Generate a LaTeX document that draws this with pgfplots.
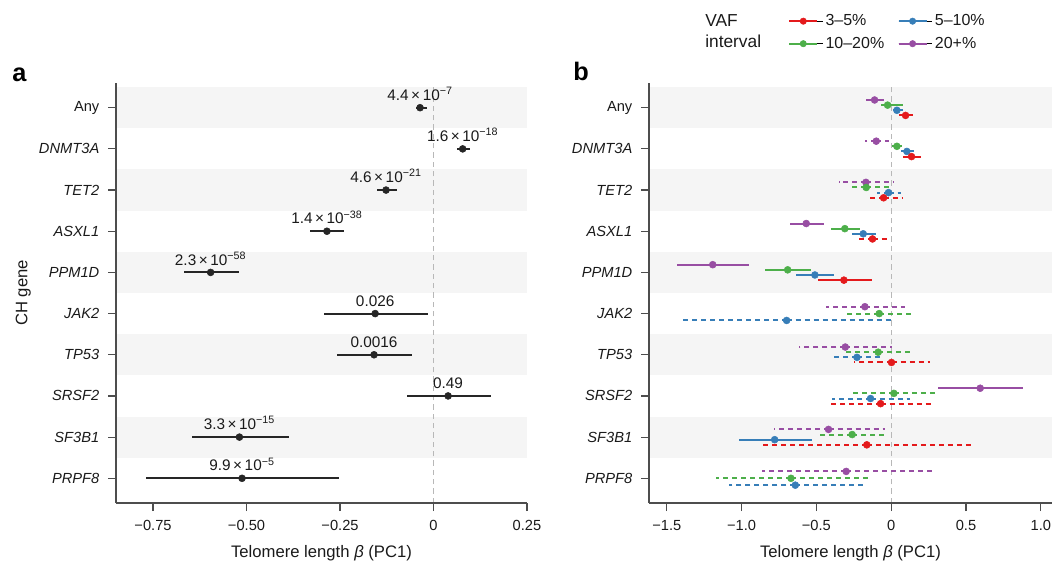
\documentclass[border=0pt]{standalone}
\usepackage{fontspec}
\setmainfont{Liberation Sans}
\usepackage{pgfplots}
\usepackage{pgfplotstable}
\pgfplotsset{compat=1.18}

\definecolor{vred}{HTML}{E41A1C}
\definecolor{vblue}{HTML}{377EB8}
\definecolor{vgreen}{HTML}{4DAF4A}
\definecolor{vpurple}{HTML}{984EA3}
\definecolor{band}{HTML}{F5F5F5}
\definecolor{axgray}{HTML}{4D4D4D}
\definecolor{zgray}{HTML}{B8B8B8}
\definecolor{txt}{HTML}{1A1A1A}
\definecolor{dotc}{HTML}{262626}

% panel a: overall effect per gene (y = 11 - row)
\pgfplotstableread{
x y lo hi
-0.036 10 -0.046 -0.018
0.078 9 0.062 0.098
-0.127 8 -0.152 -0.097
-0.285 7 -0.329 -0.239
-0.596 6 -0.668 -0.521
-0.156 5 -0.292 -0.014
-0.159 4 -0.257 -0.057
0.039 3 -0.071 0.154
-0.519 2 -0.647 -0.387
-0.512 1 -0.769 -0.252
}\tblA

% panel b: per VAF interval, solid (S) = significant, dashed (D) = not
\pgfplotstableread{
x y lo hi
0.096 9.8125 0.049 0.149
0.136 8.8125 0.082 0.198
-0.316 5.8125 -0.492 -0.129
}\redS
\pgfplotstableread{
x y lo hi
-0.051 7.8125 -0.163 0.071
-0.125 6.8125 -0.223 -0.016
0.002 3.8125 -0.247 0.261
-0.071 2.8125 -0.419 0.287
-0.163 1.8125 -0.868 0.557
}\redD
\pgfplotstableread{
x y lo hi
0.038 9.9375 0.009 0.078
0.105 8.9375 0.065 0.154
-0.187 6.9375 -0.263 -0.102
-0.510 5.9375 -0.635 -0.381
-0.779 1.9375 -1.020 -0.530
}\blueS
\pgfplotstableread{
x y lo hi
-0.018 7.9375 -0.096 0.065
-0.699 4.8333 -1.409 0.016
-0.229 3.9375 -0.390 -0.062
-0.138 2.9375 -0.396 0.127
-0.641 0.8333 -1.087 -0.191
}\blueD
\pgfplotstableread{
x y lo hi
-0.024 10.0625 -0.067 0.082
-0.310 7.0625 -0.401 -0.207
-0.692 6.0625 -0.842 -0.537
}\greenS
\pgfplotstableread{
x y lo hi
0.038 9.0625 -0.018 0.098
-0.167 8.0625 -0.274 0.011
-0.080 5 -0.296 0.143
-0.087 4.0625 -0.301 0.143
0.018 3.0625 -0.258 0.305
-0.261 2.0625 -0.485 -0.024
-0.670 1 -1.169 -0.158
}\greenD
\pgfplotstableread{
x y lo hi
-0.111 10.1875 -0.167 -0.051
-0.568 7.1875 -0.675 -0.452
-1.193 6.1875 -1.432 -0.949
0.595 3.1875 0.312 0.880
}\purpleS
\pgfplotstableread{
x y lo hi
-0.100 9.1875 -0.174 -0.018
-0.169 8.1875 -0.352 0.022
-0.176 5.1667 -0.434 0.094
-0.307 4.1875 -0.615 0.004
-0.419 2.1875 -0.786 -0.040
-0.301 1.1667 -0.864 0.276
}\purpleD

\pgfplotsset{
  forest/.style={
    scale only axis, height=315pt,
    ymin=0.4, ymax=10.6,
    ytick={1,...,10},
    yticklabels={\textit{PRPF8},\textit{SF3B1},\textit{SRSF2},\textit{TP53},\textit{JAK2},\textit{PPM1D},\textit{ASXL1},\textit{TET2},\textit{DNMT3A},Any},
    axis x line*=bottom, axis y line*=left,
    axis line style={axgray, line width=0.9pt, -},
    tick align=outside, major tick length=6pt,
    tick style={axgray, line width=0.9pt},
    ticklabel style={font=\fontsize{11}{13}\selectfont, text=txt},
    xticklabel style={yshift=-3.5pt},
    yticklabel style={xshift=-3pt},
    xlabel={Telomere length \textit{β} (PC1)},
    xlabel style={font=\fontsize{12.5}{14}\selectfont, text=txt, yshift=-4.5pt},
    axis on top, clip=false,
  },
  ci/.style={only marks, mark=*, mark size=2.6pt, color=#1,
    mark options={solid, fill=#1, draw=#1}, forget plot,
    error bars/x dir=both, error bars/x explicit, error bars/error mark=none},
  ns/.style={error bars/error bar style={line width=1.5pt, dash pattern=on 3.75pt off 3pt}},
  sg/.style={error bars/error bar style={line width=1.5pt, solid}},
  vaf/.style={legend image code/.code={\path (0pt,0pt) -- (25pt,0pt);
    \draw[#1, line width=1.5pt] (0pt,0pt) -- (21pt,0pt); \fill[#1] (10.5pt,0pt) circle (2.4pt);}},
}
\tikzset{lbl/.style={anchor=base, yshift=5.5pt, inner sep=0pt, font=\fontsize{11.5}{13}\selectfont, text=txt}}

\begin{document}
\begin{tikzpicture}
\useasboundingbox (0,0) rectangle (789pt,420.75pt);

% ---- panel a ----
\begin{axis}[forest, width=308.25pt, at={(87pt,43.5pt)}, anchor=south west,
  xmin=-0.849, xmax=0.25,
  xtick={-0.75,-0.5,-0.25,0,0.25},
  xticklabels={−0.75,−0.50,−0.25,0,0.25}]
\fill[band] (axis cs:-0.849,9.5) rectangle (axis cs:0.25,10.5);
\fill[band] (axis cs:-0.849,7.5) rectangle (axis cs:0.25,8.5);
\fill[band] (axis cs:-0.849,5.5) rectangle (axis cs:0.25,6.5);
\fill[band] (axis cs:-0.849,3.5) rectangle (axis cs:0.25,4.5);
\fill[band] (axis cs:-0.849,1.5) rectangle (axis cs:0.25,2.5);
\addplot[zgray, line width=0.8pt, dash pattern=on 4pt off 3pt, forget plot] coordinates {(0,0.4) (0,10.5)};
\addplot[ci=dotc, error bars/error bar style={line width=1.6pt, solid, draw=dotc}]
  table[x=x, y=y, x error plus expr=\thisrow{hi}-\thisrow{x}, x error minus expr=\thisrow{x}-\thisrow{lo}] {\tblA};
\node[lbl] at (axis cs:-0.036,10) {4.4\,×\,10\textsuperscript{−7}};
\node[lbl] at (axis cs:0.078,9) {1.6\,×\,10\textsuperscript{−18}};
\node[lbl] at (axis cs:-0.127,8) {4.6\,×\,10\textsuperscript{−21}};
\node[lbl] at (axis cs:-0.285,7) {1.4\,×\,10\textsuperscript{−38}};
\node[lbl] at (axis cs:-0.596,6) {2.3\,×\,10\textsuperscript{−58}};
\node[lbl] at (axis cs:-0.156,5) {0.026};
\node[lbl] at (axis cs:-0.159,4) {0.0016};
\node[lbl] at (axis cs:0.039,3) {0.49};
\node[lbl] at (axis cs:-0.519,2) {3.3\,×\,10\textsuperscript{−15}};
\node[lbl] at (axis cs:-0.512,1) {9.9\,×\,10\textsuperscript{−5}};
\end{axis}

% ---- panel b ----
\begin{axis}[forest, width=302.25pt, at={(486.75pt,43.5pt)}, anchor=south west,
  xmin=-1.619, xmax=1.075,
  xtick={-1.5,-1,-0.5,0,0.5,1},
  xticklabels={−1.5,−1.0,−0.5,0,0.5,1.0},
  legend columns=2,
  legend cell align=left,
  legend style={at={(0.335,1)}, anchor=north west, yshift=55.5pt, draw=none, fill=none,
    font=\fontsize{12}{14}\selectfont, text=txt,
    row sep=3pt,
    /tikz/every even column/.append style={column sep=8pt}}]
\fill[band] (axis cs:-1.619,9.5) rectangle (axis cs:1.075,10.5);
\fill[band] (axis cs:-1.619,7.5) rectangle (axis cs:1.075,8.5);
\fill[band] (axis cs:-1.619,5.5) rectangle (axis cs:1.075,6.5);
\fill[band] (axis cs:-1.619,3.5) rectangle (axis cs:1.075,4.5);
\fill[band] (axis cs:-1.619,1.5) rectangle (axis cs:1.075,2.5);
\addplot[zgray, line width=0.8pt, dash pattern=on 4pt off 3pt, forget plot] coordinates {(0,0.4) (0,10.5)};
\addplot[ci=vpurple, ns] table[x=x, y=y, x error plus expr=\thisrow{hi}-\thisrow{x}, x error minus expr=\thisrow{x}-\thisrow{lo}] {\purpleD};
\addplot[ci=vpurple, sg] table[x=x, y=y, x error plus expr=\thisrow{hi}-\thisrow{x}, x error minus expr=\thisrow{x}-\thisrow{lo}] {\purpleS};
\addplot[ci=vgreen, ns] table[x=x, y=y, x error plus expr=\thisrow{hi}-\thisrow{x}, x error minus expr=\thisrow{x}-\thisrow{lo}] {\greenD};
\addplot[ci=vgreen, sg] table[x=x, y=y, x error plus expr=\thisrow{hi}-\thisrow{x}, x error minus expr=\thisrow{x}-\thisrow{lo}] {\greenS};
\addplot[ci=vblue, ns] table[x=x, y=y, x error plus expr=\thisrow{hi}-\thisrow{x}, x error minus expr=\thisrow{x}-\thisrow{lo}] {\blueD};
\addplot[ci=vblue, sg] table[x=x, y=y, x error plus expr=\thisrow{hi}-\thisrow{x}, x error minus expr=\thisrow{x}-\thisrow{lo}] {\blueS};
\addplot[ci=vred, ns] table[x=x, y=y, x error plus expr=\thisrow{hi}-\thisrow{x}, x error minus expr=\thisrow{x}-\thisrow{lo}] {\redD};
\addplot[ci=vred, sg] table[x=x, y=y, x error plus expr=\thisrow{hi}-\thisrow{x}, x error minus expr=\thisrow{x}-\thisrow{lo}] {\redS};
\addlegendimage{vaf=vred}
\addlegendentry{3–5\%}
\addlegendimage{vaf=vblue}
\addlegendentry{5–10\%}
\addlegendimage{vaf=vgreen}
\addlegendentry{10–20\%}
\addlegendimage{vaf=vpurple}
\addlegendentry{20+\%}
\end{axis}

% titles and labels
\node[anchor=base west, inner sep=0pt, font=\fontsize{19}{20}\selectfont\bfseries, text=black] at (9pt,359.25pt) {a};
\node[anchor=base west, inner sep=0pt, font=\fontsize{19}{20}\selectfont\bfseries, text=black] at (429.75pt,360pt) {b};
\node[rotate=90, font=\fontsize{12.5}{14}\selectfont, text=txt] at (17.5pt,201pt) {CH gene};
\node[anchor=base west, inner sep=0pt, font=\fontsize{13}{15}\selectfont, text=txt] at (528.75pt,400.5pt) {VAF};
\node[anchor=base west, inner sep=0pt, font=\fontsize{13}{15}\selectfont, text=txt] at (528.75pt,384.75pt) {interval};
\end{tikzpicture}
\end{document}
